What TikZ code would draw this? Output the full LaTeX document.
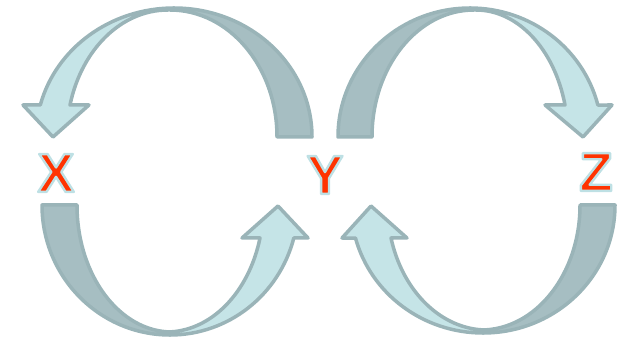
\documentclass[tikz,border=0pt]{standalone}
\usepackage{fontspec}
\setmainfont{Liberation Sans}
\definecolor{lightface}{RGB}{197,228,231}
\definecolor{darkface}{RGB}{166,190,194}
\definecolor{edgecol}{RGB}{154,180,184}
\definecolor{letterred}{RGB}{255,51,0}
\definecolor{halo}{RGB}{190,224,228}
% red letter with a light blue outline: fill+stroke text render mode
\newcommand\halotxt[1]{%
 \special{pdf:literal direct 2 Tr 2.4 w 1 j 0.745 0.878 0.894 RG}#1\special{pdf:literal direct 0 Tr}}
\tikzset{
 backface/.style={fill=darkface, draw=edgecol, line width=3.5pt, line join=round},
 frontface/.style={fill=lightface, draw=edgecol, line width=3.5pt, line join=round},
 letter/.style={inner sep=0pt, font=\fontsize{55}{55}\selectfont\bfseries, text=letterred}
}
\begin{document}
\begin{tikzpicture}[x=1pt,y=1pt]
\useasboundingbox (0,0) rectangle (617,337);
% top-left arrow (Y -> X)
\draw[backface] (312,200) arc[start angle=0,end angle=90,x radius=138,y radius=129] -- (170,327) arc[start angle=90,end angle=0,x radius=107,y radius=127] -- cycle;
\draw[frontface] (174,329) arc[start angle=90,end angle=165.6,x radius=138,y radius=129] -- (23,232) -- (53,200) -- (89,232) -- (70,232) arc[start angle=165.4,end angle=90,x radius=101,y radius=127] -- cycle;
% top-right arrow (Y -> Z)
\draw[backface] (338,200) arc[start angle=180,end angle=90,x radius=132,y radius=129] -- (474,327) arc[start angle=90,end angle=180,x radius=102,y radius=127] -- cycle;
\draw[frontface] (470,329) arc[start angle=90,end angle=14.36,x radius=132,y radius=129] -- (612,232) -- (583,200) -- (545,232) -- (565,232) arc[start angle=14.6,end angle=90,x radius=92,y radius=127] -- cycle;
% bottom-left arrow (X -> Y)
\draw[backface] (42,132) arc[start angle=180,end angle=270,x radius=128,y radius=130] -- (172,5) arc[start angle=270,end angle=180,x radius=95,y radius=127] -- cycle;
\draw[frontface] (170,2) arc[start angle=270,end angle=345.3,x radius=128,y radius=130] -- (308,99) -- (278,131) -- (242,99) -- (260,99) arc[start angle=344.94,end angle=270,x radius=97,y radius=127] -- cycle;
% bottom-right arrow (Z -> Y)
\draw[backface] (615,132) arc[start angle=0,end angle=-90,x radius=132,y radius=128] -- (481,7) arc[start angle=-90,end angle=0,x radius=99,y radius=125] -- cycle;
\draw[frontface] (483,4) arc[start angle=270,end angle=194.95,x radius=132,y radius=128] -- (342,99) -- (371,131) -- (407,99) -- (391,99) arc[start angle=195.3,end angle=270,x radius=99.5,y radius=125] -- cycle;
% letters
\node[letter] (x) at (56,164) {\halotxt{X}};
\node[letter] (y) at (325,162) {\halotxt{Y}};
\node[letter] (z) at (596,165) {\halotxt{Z}};
\end{tikzpicture}
\end{document}
